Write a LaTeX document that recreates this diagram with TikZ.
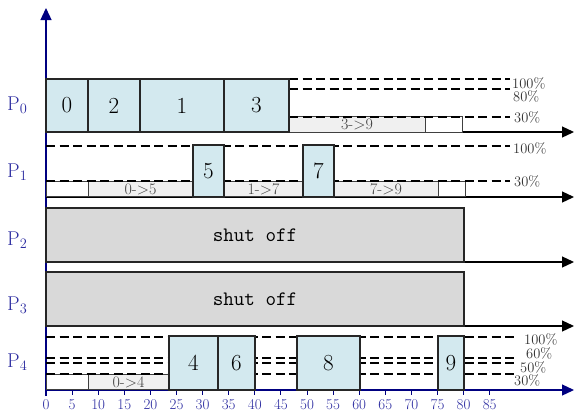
\documentclass[tikz,border=0pt]{standalone}
\usepackage{fontspec}
\usetikzlibrary{arrows.meta}
\definecolor{jobfill}{HTML}{D3E9EF}
\definecolor{xferfill}{HTML}{F0F0F0}
\definecolor{offfill}{HTML}{D9D9D9}
\definecolor{axisblue}{HTML}{000080}
\definecolor{lblblue}{HTML}{2B2BA0}
\definecolor{pctgray}{HTML}{333333}
\definecolor{xfertext}{HTML}{404040}
\begin{document}
\begin{tikzpicture}[x=1pt,y=-1pt,
  jobbox/.style={draw=black!85,line width=1.2pt,fill=jobfill,inner sep=0pt,
    font=\fontsize{23}{23}\selectfont},
  xferbox/.style={draw=black!75,line width=0.9pt,fill=xferfill,inner sep=0pt,
    minimum height=15.5pt,text=xfertext,font=\fontsize{16}{16}\selectfont},
  idlebox/.style={draw=black!75,line width=0.9pt,fill=white,inner sep=0pt,minimum height=15.5pt},
  offbox/.style={draw=black!85,line width=1.1pt,fill=offfill,inner sep=0pt,
    minimum width=418pt,minimum height=54pt,font=\ttfamily\fontsize{20.5}{20}\selectfont},
  thr/.style={line width=2.2pt,dash pattern=on 9pt off 4.5pt,black},
  raxis/.style={line width=1.3pt,black,-{Triangle[length=12pt,width=11pt]}},
  baxis/.style={line width=1.3pt,axisblue,-{Triangle[length=12pt,width=11pt]}},
  pct/.style={anchor=west,inner sep=0pt,text=pctgray,font=\fontsize{14.5}{14.5}\selectfont},
  plbl/.style={anchor=base west,inner sep=0pt,text=lblblue,font=\fontsize{20}{20}\selectfont},
  ticklbl/.style={inner sep=0pt,text=lblblue,font=\fontsize{15}{15}\selectfont}
]
\useasboundingbox (0,0) rectangle (574,413);

% axes
\draw[baxis] (46,396) -- (46,8);
\draw[raxis] (46,132) -- (574,132);
\draw[raxis] (46,197) -- (574,197);
\draw[raxis] (46,262) -- (574,262);
\draw[raxis] (46,326) -- (574,326);
\draw[baxis] (46,390) -- (574,390);
\foreach \t in {0,5,...,85}{
  \draw[axisblue,line width=0.9pt] ({46+5.22*\t},390) -- ({46+5.22*\t},395);
  \node[ticklbl] (tk\t) at ({46+5.22*\t},405) {\t};
}

% ---- P0 ----
\node[xferbox,minimum width=136pt] (x03) at (357,124.5) {3->9};
\node[idlebox,minimum width=37pt] (i01) at (443.5,124.5) {};
\draw[thr] (46,79) -- (510,79);
\draw[thr] (46,89) -- (510,89);
\draw[thr] (46,117) -- (510,117);
\node[jobbox,minimum width=42pt,minimum height=53pt] (j00) at (67,105.5) {0};
\node[jobbox,minimum width=52pt,minimum height=53pt] (j02) at (114,105.5) {2};
\node[jobbox,minimum width=84pt,minimum height=53pt] (j01) at (182,105.5) {1};
\node[jobbox,minimum width=65pt,minimum height=53pt] (j03) at (256.5,105.5) {3};
\node[pct] (q0a) at (512,83) {100\%};
\node[pct] (q0b) at (513,96) {80\%};
\node[pct] (q0c) at (514,117) {30\%};

% ---- P1 ----
\node[idlebox,minimum width=42pt] (i11) at (67,189) {};
\node[xferbox,minimum width=105pt] (x105) at (140.5,189) {0->5};
\node[xferbox,minimum width=79pt] (x117) at (263.5,189) {1->7};
\node[xferbox,minimum width=104pt] (x179) at (386,189) {7->9};
\node[idlebox,minimum width=27pt] (i12) at (451.5,189) {};
\draw[thr] (46,146) -- (510,146);
\draw[thr] (46,181) -- (510,181);
\node[jobbox,minimum width=31pt,minimum height=52pt] (j15) at (208.5,171) {5};
\node[jobbox,minimum width=31pt,minimum height=52pt] (j17) at (318.5,171) {7};
\node[pct] (q1a) at (513,148) {100\%};
\node[pct] (q1b) at (514,181) {30\%};

% ---- P2, P3 ----
\node[offbox] (off2) at (255,235) {shut off};
\node[offbox] (off3) at (255,299) {shut off};

% ---- P4 ----
\node[idlebox,minimum width=42pt] (i41) at (67,382) {};
\node[xferbox,minimum width=81pt] (x404) at (128.5,382) {0->4};
\draw[thr] (46,337) -- (515,337);
\draw[thr] (46,358) -- (515,358);
\draw[thr] (46,363) -- (515,363);
\draw[thr] (46,374) -- (515,374);
\node[jobbox,minimum width=49pt,minimum height=54pt] (j44) at (193.5,363) {4};
\node[jobbox,minimum width=37pt,minimum height=54pt] (j46) at (236.5,363) {6};
\node[jobbox,minimum width=63pt,minimum height=54pt] (j48) at (328.5,363) {8};
\node[jobbox,minimum width=26pt,minimum height=54pt] (j49) at (451,363) {9};
\node[pct] (q4a) at (524,339) {100\%};
\node[pct] (q4b) at (526,353) {60\%};
\node[pct] (q4c) at (520,367) {50\%};
\node[pct] (q4d) at (514,380) {30\%};

% processor labels
\node[plbl] (p0) at (7,110) {P$_0$};
\node[plbl] (p1) at (7,177) {P$_1$};
\node[plbl] (p2) at (7,245) {P$_2$};
\node[plbl] (p3) at (7,310) {P$_3$};
\node[plbl] (p4) at (7,367) {P$_4$};
\end{tikzpicture}
\end{document}
